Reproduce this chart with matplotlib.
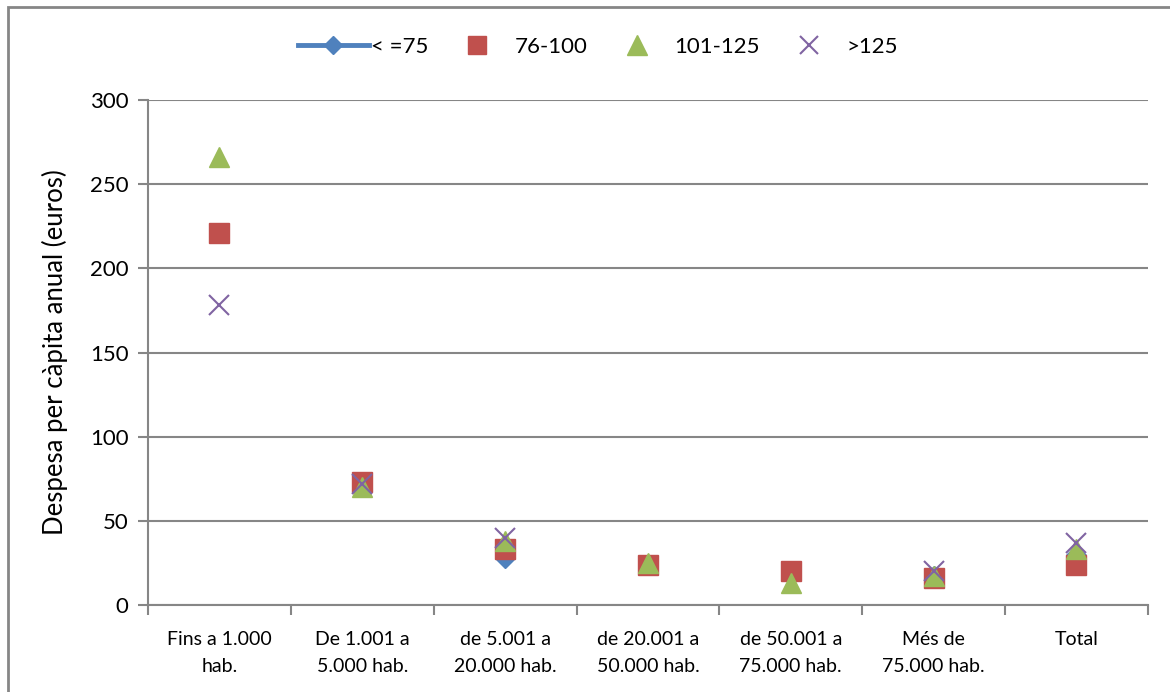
import matplotlib.pyplot as plt
from matplotlib.lines import Line2D
from matplotlib.patches import Rectangle

plt.rcParams["font.family"] = ["Lato", "DejaVu Sans"]

nan = float("nan")
categories = [
    "Fins a 1.000\nhab.",
    "De 1.001 a\n5.000 hab.",
    "de 5.001 a\n20.000 hab.",
    "de 20.001 a\n50.000 hab.",
    "de 50.001 a\n75.000 hab.",
    "Més de\n75.000 hab.",
    "Total",
]
series_names = ["< =75", "76-100", "101-125", ">125"]
le_75 = [221, 73, 28, 24, 20, 17, 30]
r76_100 = [221, 73, 33, 24, 20, 16, 24]
r101_125 = [266, 70, 38, 25, 13, 17, 33]
gt_125 = [178, 72, 40, nan, nan, 20, 37]

colors = ["#4F81BD", "#C0504D", "#9BBB59", "#8064A2"]
grey = "#868686"

fig = plt.figure(figsize=(11.7, 6.92), dpi=100)
ax = fig.add_axes([0.1265, 0.1257, 0.8546, 0.7298])

x = range(len(categories))
ax.plot(x, le_75, linestyle="none", marker="D", ms=10, color=colors[0], zorder=3)
ax.plot(x, r76_100, linestyle="none", marker="s", ms=14, color=colors[1], zorder=4)
ax.plot(x, r101_125, linestyle="none", marker="^", ms=15, color=colors[2], zorder=5)
ax.plot(x, gt_125, linestyle="none", marker="x", ms=14, mew=1.5,
        color=colors[3], zorder=6)

ax.set_xlim(-0.5, len(categories) - 0.5)
ax.set_ylim(0, 300)
ax.set_yticks(range(0, 301, 50))
ax.yaxis.grid(True, color=grey, lw=1.5)
ax.set_axisbelow(True)

# category boundaries carry the tick marks, labels sit between them
ax.set_xticks([i - 0.5 for i in range(len(categories) + 1)])
ax.set_xticklabels([])
ax.set_xticks(list(x), minor=True)
ax.set_xticklabels(categories, minor=True, fontsize=14, linespacing=1.65)
ax.tick_params(axis="x", which="major", length=7, width=1.5, color=grey,
               direction="out")
ax.tick_params(axis="x", which="minor", length=0, pad=19)
ax.tick_params(axis="y", length=7, width=1.5, color=grey, labelsize=16, pad=7)

for side in ("top", "right"):
    ax.spines[side].set_visible(False)
for side in ("left", "bottom"):
    ax.spines[side].set_color(grey)
    ax.spines[side].set_linewidth(1.5)

ax.set_ylabel("Despesa per càpita anual (euros)", fontsize=18.5, labelpad=16)

handles = [
    Line2D([], [], color=colors[0], lw=3.5, marker="D", ms=9),
    Line2D([], [], color=colors[1], linestyle="none", marker="s", ms=13),
    Line2D([], [], color=colors[2], linestyle="none", marker="^", ms=14),
    Line2D([], [], color=colors[3], linestyle="none", marker="x", ms=13, mew=1.5),
]
fig.legend(handles, series_names, loc="center", bbox_to_anchor=(0.511, 0.932),
           ncol=4, frameon=False, fontsize=16, handlelength=3.2,
           handletextpad=0.1, columnspacing=0.6)

# outer chart frame
fig.patches.append(Rectangle((8 / 1170, -0.1), 1.2, 1 - 7 / 692 + 0.1,
                             transform=fig.transFigure, fill=False,
                             edgecolor=grey, lw=2))

fig.savefig("out.png", dpi=100)
